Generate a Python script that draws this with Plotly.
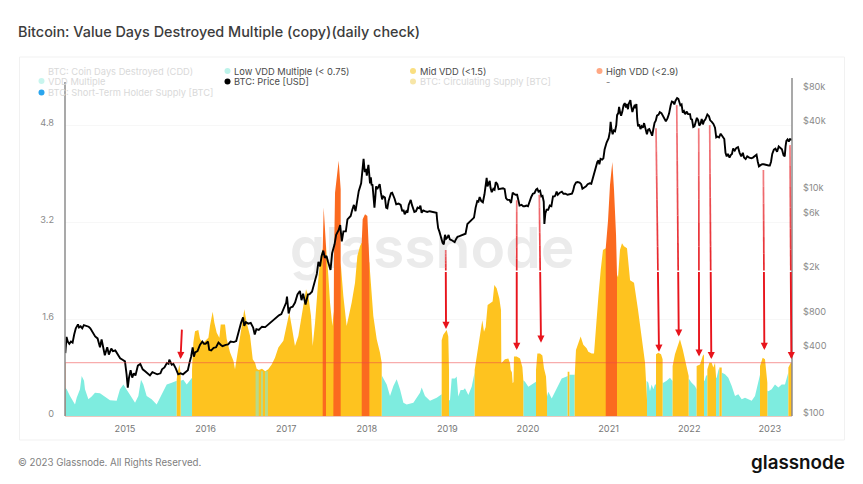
import plotly.graph_objects as go

TITLE = "Bitcoin: Value Days Destroyed Multiple (copy)(daily check)"
FOOTER = "© 2023 Glassnode. All Rights Reserved."
BRAND = "glassnode"

year_ticks = [2015, 2016, 2017, 2018, 2019, 2020, 2021, 2022, 2023]
vdd_ticks = [0, 1.6, 3.2, 4.8]
price_ticks = [100, 400, 800, 2000, 6000, 10000, 40000, 80000]
price_labels = ["$100", "$400", "$800", "$2k", "$6k", "$10k", "$40k", "$80k"]
threshold = 0.88

d14 = [2014.26,2014.275,2014.29,2014.31,2014.33,2014.35,2014.37,2014.39,2014.417,2014.43,2014.45,2014.47,2014.49,2014.52,2014.55,2014.57,2014.60,2014.63,2014.66,2014.69,2014.71,2014.73,2014.75,2014.78,2014.80,2014.83,2014.85,2014.88,2014.91,2014.94,2014.97]
p14 = [355,495,450,430,450,440,520,590,640,600,615,590,630,620,610,590,548,500,480,400,470,395,340,400,345,390,370,375,350,320,310]
d15 = [2015.0,2015.02,2015.035,2015.05,2015.07,2015.09,2015.11,2015.13,2015.16,2015.19,2015.22,2015.25,2015.28,2015.31,2015.34,2015.37,2015.40,2015.44,2015.46,2015.49,2015.52,2015.54,2015.55,2015.58,2015.60,2015.63,2015.66,2015.69,2015.72,2015.75,2015.78,2015.80,2015.82,2015.84,2015.855,2015.87,2015.9,2015.93,2015.96,2015.98]
p15 = [300,230,175,215,250,215,235,225,275,285,255,245,235,225,240,235,230,235,255,265,290,285,310,280,285,260,230,235,230,240,250,290,330,400,330,360,370,420,450,430]
d16 = [2016.0,2016.03,2016.045,2016.07,2016.10,2016.13,2016.16,2016.19,2016.21,2016.25,2016.28,2016.31,2016.35,2016.38,2016.40,2016.42,2016.44,2016.465,2016.48,2016.50,2016.53,2016.56,2016.59,2016.61,2016.63,2016.66,2016.70,2016.74,2016.78,2016.81,2016.85,2016.88,2016.91,2016.94,2016.97]
p16 = [430,450,380,375,395,400,440,420,410,420,425,450,445,455,525,575,660,740,620,670,650,660,600,520,580,570,610,605,640,680,720,745,770,790,900]
d17 = [2017.0,2017.01,2017.03,2017.05,2017.08,2017.11,2017.14,2017.17,2017.19,2017.21,2017.24,2017.27,2017.29,2017.32,2017.35,2017.38,2017.40,2017.42,2017.44,2017.46,2017.48,2017.50,2017.52,2017.55,2017.57,2017.60,2017.62,2017.65,2017.67,2017.69,2017.71,2017.74,2017.76,2017.80,2017.82,2017.84,2017.86,2017.88,2017.90,2017.93,2017.945,2017.96,2017.975,2017.99]
p17 = [1000,1130,800,900,920,1000,1180,1270,1050,1200,960,1180,1190,1250,1500,1800,2300,2100,2600,2900,2500,2600,2300,1950,2750,3300,4000,4400,4900,3500,4300,4300,5500,5900,6700,7400,6500,8000,9800,11500,15000,19000,14500,15500]
d18 = [2018.0,2018.012,2018.02,2018.03,2018.04,2018.05,2018.06,2018.07,2018.08,2018.095,2018.105,2018.115,2018.13,2018.145,2018.16,2018.175,2018.19,2018.205,2018.225,2018.24,2018.255,2018.27,2018.285,2018.3,2018.315,2018.33,2018.345,2018.365,2018.38,2018.395,2018.42,2018.44,2018.455,2018.47,2018.49,2018.505,2018.52,2018.545,2018.56,2018.575,2018.59,2018.61,2018.63,2018.65,2018.665,2018.68,2018.7,2018.72,2018.75,2018.78,2018.82,2018.84,2018.865,2018.872,2018.885,2018.9,2018.92,2018.94,2018.955,2018.97,2018.985]
p18 = [13500,15000,16800,14000,11500,13000,11000,11300,8800,7000,8500,10800,10200,10800,11300,9500,8300,8800,8600,7000,6900,8000,9000,9400,9500,8700,8400,7500,7500,7600,7400,6500,6700,6100,6500,6300,7400,8200,7400,6900,6400,6500,7000,6900,7300,6300,6600,6500,6400,6500,6400,6350,6300,5500,4600,4300,3800,3400,3300,4000,3700]
d19 = [2019.0,2019.015,2019.03,2019.05,2019.07,2019.09,2019.105,2019.125,2019.15,2019.175,2019.2,2019.225,2019.248,2019.27,2019.29,2019.31,2019.33,2019.35,2019.37,2019.385,2019.4,2019.42,2019.44,2019.46,2019.475,2019.487,2019.497,2019.51,2019.525,2019.535,2019.55,2019.57,2019.585,2019.6,2019.62,2019.635,2019.655,2019.675,2019.69,2019.71,2019.727,2019.745,2019.77,2019.79,2019.81,2019.825,2019.845,2019.865,2019.88,2019.895,2019.92,2019.94,2019.96,2019.98]
p19 = [3800,4000,3650,3600,3500,3450,3650,3850,3900,3950,3990,4100,5000,5200,5300,5500,5700,7000,8000,7900,8700,8000,7800,9200,10700,12900,10800,11400,12100,10500,9600,10300,10100,11800,11300,10200,10300,10300,10400,10200,8500,8200,8200,7700,9500,9300,9100,9100,8200,7300,7400,7200,7200,7300]
d20 = [2020.0,2020.02,2020.04,2020.06,2020.08,2020.1,2020.115,2020.13,2020.15,2020.165,2020.18,2020.195,2020.203,2020.215,2020.23,2020.25,2020.27,2020.29,2020.31,2020.33,2020.34,2020.355,2020.37,2020.395,2020.42,2020.44,2020.465,2020.49,2020.52,2020.545,2020.56,2020.575,2020.595,2020.615,2020.64,2020.66,2020.675,2020.695,2020.72,2020.74,2020.765,2020.785,2020.805,2020.82,2020.84,2020.86,2020.875,2020.885,2020.9,2020.92,2020.935,2020.95,2020.975,2020.99]
p20 = [7200,8100,8700,9300,9400,10100,10300,9700,9900,8800,8900,7900,5000,6200,6700,6700,7300,7200,8800,8800,9000,9700,9100,9500,9700,9300,9300,9100,9200,9300,9900,11000,11700,11800,11700,11300,10300,10500,10800,11300,11500,11400,13000,13500,15500,17800,18400,17000,19000,18700,19200,23000,26500,28500]
d21 = [2021.0,2021.015,2021.025,2021.035,2021.05,2021.065,2021.08,2021.095,2021.105,2021.12,2021.13,2021.145,2021.155,2021.17,2021.185,2021.2,2021.215,2021.225,2021.24,2021.25,2021.27,2021.28,2021.295,2021.31,2021.325,2021.335,2021.345,2021.355,2021.365,2021.38,2021.395,2021.41,2021.425,2021.44,2021.46,2021.475,2021.49,2021.505,2021.525,2021.54,2021.555,2021.57,2021.585,2021.6,2021.62,2021.635,2021.655,2021.675,2021.69,2021.71,2021.73,2021.75,2021.77,2021.785,2021.8,2021.815,2021.83,2021.85,2021.865,2021.875,2021.89,2021.905,2021.92,2021.935,2021.95,2021.97,2021.985]
p21 = [29000,33000,40500,35000,31500,34000,33500,38000,46500,48500,55000,48000,46000,50000,57000,59500,54500,58500,52500,58800,63300,56000,49500,54000,57500,53500,58500,43000,37000,38500,35000,37000,36000,39500,35500,31500,34500,35000,32500,30500,35000,39800,41500,46000,47000,49500,48500,46000,43500,41000,43500,48000,57000,61500,61000,58000,62500,66000,65000,60000,57000,58000,49000,50500,47500,50000,47500]
d22 = [2022.01,2022.02,2022.035,2022.05,2022.065,2022.08,2022.095,2022.11,2022.125,2022.14,2022.155,2022.17,2022.185,2022.2,2022.225,2022.245,2022.26,2022.28,2022.3,2022.32,2022.335,2022.35,2022.37,2022.39,2022.41,2022.435,2022.45,2022.465,2022.48,2022.5,2022.515,2022.53,2022.545,2022.565,2022.585,2022.605,2022.625,2022.645,2022.665,2022.68,2022.7,2022.72,2022.745,2022.77,2022.79,2022.82,2022.835,2022.85,2022.865,2022.885,2022.905,2022.925,2022.945,2022.97,2022.985]
p22 = [47500,43000,42500,36500,37000,41500,44000,42000,37500,39000,43000,38500,41500,42500,47200,45500,41800,40500,38800,36000,29500,30000,29500,31800,30000,28500,21500,20000,21000,19500,20500,21000,23500,22500,23800,24200,21500,20000,21500,19500,18900,20000,19500,19200,19500,20500,20700,18000,16300,16700,17000,17000,16800,16800,16600]
d23 = [2023.0,2023.015,2023.03,2023.05,2023.07,2023.09,2023.11,2023.13,2023.15,2023.17,2023.185,2023.195,2023.205,2023.22,2023.235,2023.25,2023.273]
p23 = [16600,17900,21000,22900,23400,22000,24500,23500,23100,20500,20000,24500,27500,28300,27100,28400,28100]

price_dates = d14 + d15 + d16 + d17 + d18 + d19 + d20 + d21 + d22 + d23
price_usd = p14 + p15 + p16 + p17 + p18 + p19 + p20 + p21 + p22 + p23

# VDD multiple by colour band; None separates runs of the band
low_dates = [
 2014.256,2014.277,2014.318,2014.38,2014.401,2014.442,2014.463,2014.492,2014.504,2014.546,2014.587,2014.628,2014.69,2014.752,2014.814,2014.897,2014.938,2014.98,2015.021,2015.063,2015.125,2015.166,2015.199,2015.228,2015.269,2015.331,2015.393,2015.435,2015.518,2015.58,2015.642,None,
 2015.691,2015.724,2015.766,2015.807,2015.832,None,
 2018.185,2018.189,2018.247,2018.288,2018.33,2018.371,2018.412,2018.454,2018.495,2018.578,2018.66,2018.681,2018.722,2018.784,2018.867,2018.917,2018.929,None,
 2019.02,2019.032,2019.053,2019.094,2019.115,2019.135,2019.164,2019.198,2019.218,2019.26,2019.301,2019.33,2019.338,None,
 2019.942,2019.963,2020.004,2020.066,2020.099,None,
 2020.236,2020.252,2020.294,2020.335,2020.376,2020.418,2020.48,2020.492,None,
 2020.513,2020.542,2020.575,2020.579,None,
 2021.472,2021.493,2021.513,2021.534,2021.555,2021.575,2021.588,None,
 2021.67,2021.679,2021.72,2021.761,2021.79,2021.794,None,
 2021.993,2022.001,2022.03,2022.071,2022.084,2022.092,None,
 2022.183,2022.192,2022.208,2022.225,None,
 2022.332,2022.34,2022.365,2022.374,None,
 2022.403,2022.407,2022.444,2022.485,2022.527,2022.568,2022.609,2022.651,2022.692,2022.733,2022.775,2022.816,2022.857,2022.87,2022.878,None,
 2022.969,2022.982,2023.023,2023.064,2023.106,2023.147,2023.188,2023.217,2023.23]
low_vals = [
 .47,.44,.33,.19,.30,.44,.66,.58,.44,.275,.32,.385,.375,.32,.26,.25,.44,.52,.44,.36,.22,.33,.60,.52,.33,.275,.19,.30,.52,.55,.58,None,
 .58,.60,.52,.60,.63,None,
 .68,.66,.52,.33,.495,.605,.44,.22,.19,.22,.385,.47,.33,.25,.30,.36,.36,None,
 .26,.26,.62,.62,.65,.32,.43,.43,.456,.347,.484,.70,.72,None,
 .59,.565,.484,.54,.565,None,
 .32,.40,.29,.40,.51,.62,.65,.66,None,
 .68,.68,.68,.68,None,
 .58,.55,.41,.52,.44,.52,.52,None,
 .55,.55,.58,.63,.58,.58,None,
 .62,.605,.55,.495,.44,.44,None,
 .58,.58,.66,.68,None,
 .63,.63,.77,.77,None,
 .72,.715,.69,.63,.495,.33,.36,.275,.30,.275,.25,.33,.55,.66,.68,None,
 .42,.41,.44,.52,.47,.52,.52,.69,.72]

stripe_dates = [2016.62,2016.66,None,2016.687,2016.712,None,2016.737,2016.774]
stripe_vals = [.74,.74,None,.74,.74,None,.74,.74]

mid_dates = [
 2015.642,2015.65,2015.675,2015.691,None,
 2015.832,2015.848,2015.869,2015.91,2015.931,2015.972,2016.035,2016.055,2016.088,2016.109,2016.138,2016.171,2016.188,2016.241,2016.262,2016.303,2016.345,2016.365,2016.398,2016.427,2016.46,2016.481,2016.51,2016.552,2016.585,2016.614,2016.634,2016.66,2016.70,2016.74,2016.778,2016.82,2016.861,2016.903,2016.965,2017.006,2017.039,2017.068,2017.109,2017.151,2017.192,2017.246,2017.275,2017.308,2017.329,2017.358,2017.399,2017.428,2017.453,2017.494,2017.523,2017.544,2017.573,2017.585,2017.676,2017.709,2017.75,2017.779,2017.812,2017.854,2017.883,2017.916,2017.937,2018.032,2018.081,2018.123,2018.164,2018.185,None,
 2018.929,2018.949,2018.991,2019.011,2019.02,None,
 2019.338,2019.363,2019.384,2019.413,2019.433,2019.454,2019.475,2019.499,2019.528,2019.561,2019.582,2019.611,2019.644,2019.665,2019.669,2019.714,2019.756,2019.777,2019.785,2019.80,2019.81,2019.82,2019.826,2019.859,2019.901,2019.93,2019.942,None,
 2020.099,2020.116,2020.149,2020.178,2020.198,2020.223,2020.236,None,
 2020.492,2020.513,None,
 2020.579,2020.595,2020.624,2020.653,2020.686,2020.727,2020.748,2020.79,2020.819,2020.84,2020.873,2020.902,2020.93,2020.964,2021.104,2021.117,2021.141,2021.166,2021.19,2021.228,2021.266,2021.315,2021.365,2021.414,2021.452,2021.476,None,
 2021.588,2021.617,2021.65,2021.67,None,
 2021.794,2021.823,2021.865,2021.885,2021.919,2021.947,2021.981,2021.993,None,
 2022.092,2022.134,2022.167,2022.183,None,
 2022.225,2022.25,2022.278,2022.299,2022.32,2022.332,None,
 2022.374,2022.403,None,
 2022.878,2022.911,2022.94,2022.961,2022.969,None,
 2023.23,2023.259,2023.275]
mid_vals = [
 .60,.70,.85,.70,None,
 .77,1.21,1.40,1.42,1.27,1.21,1.29,1.49,1.72,1.54,1.375,1.29,1.51,1.51,1.27,1.05,.91,.77,1.05,1.32,1.6,1.76,1.54,1.32,.935,.88,.78,.76,.78,.74,.77,.85,.96,1.13,1.24,1.485,1.705,1.485,1.155,1.32,1.65,2.09,1.98,1.65,1.155,1.54,2.26,2.64,2.75,2.805,2.31,1.87,1.485,1.65,2.53,1.98,1.485,1.65,1.87,2.2,2.64,2.805,2.86,2.53,1.65,1.265,1.045,.88,None,
 1.25,1.34,1.42,1.31,.76,None,
 .76,.98,1.2,1.42,1.58,1.39,1.47,1.83,1.86,1.89,2.16,2.11,1.94,1.75,.87,.935,.95,.87,.76,.72,.54,.56,.98,.98,.95,.81,.59,None,
 .76,1.03,1.03,1.0,.79,.65,.32,None,
 .73,.73,None,
 .65,1.09,1.2,1.31,1.175,1.12,1.06,1.03,1.03,1.47,1.97,2.41,2.74,2.77,2.33,2.29,2.74,2.85,2.8,2.77,2.24,2.2,1.75,1.3,.88,.27,None,
 1.02,1.045,1.02,.935,None,
 .825,1.02,1.18,1.265,1.1,.935,.77,.66,None,
 .825,.85,.99,1.02,None,
 .77,.88,.88,.80,.88,.66,None,
 .80,.80,None,
 .825,.96,.935,.66,.55,None,
 .80,.88,.88]

high_dates = [
 2014.256,2014.262,None,
 2017.453,2017.465,2017.494,None,
 2017.585,2017.593,2017.606,2017.651,2017.676,None,
 2017.937,2017.949,2017.978,2018.007,2018.032,None,
 2020.964,2020.993,2021.017,2021.046,2021.067,2021.092,2021.104,None,
 2023.27,2023.275]
high_vals = [
 .88,.88,None,
 2.75,3.44,2.805,None,
 1.65,2.6,3.685,4.21,3.74,None,
 2.86,3.245,3.33,3.30,2.53,None,
 2.77,3.23,3.81,4.19,3.73,2.99,2.33,None,
 .88,.88]

# hand-drawn arrows on the screenshot: top and tip, in axis units
arrow_top_x = [2015.707,2018.979,2019.86,2020.14,2021.588,2021.845,2022.118,2022.254,2022.92,2023.25]
arrow_top_y = [1.45,2.74,3.56,3.65,4.75,5.13,4.75,4.80,4.06,4.47]
arrow_tip_x = [2015.689,2018.983,2019.86,2020.161,2021.625,2021.87,2022.122,2022.274,2022.932,2023.267]
arrow_tip_y = [.94,1.436,1.09,1.21,1.06,1.31,.98,.94,1.09,.94]

for a, b in [(d14,p14),(d15,p15),(d16,p16),(d17,p17),(d18,p18),(d19,p19),(d20,p20),(d21,p21),(d22,p22),(d23,p23),
             (low_dates,low_vals),(mid_dates,mid_vals),(high_dates,high_vals)]:
    assert len(a) == len(b), (a[0], len(a), len(b))

W, H = 863, 484
L, R, T, B = 65, 792, 78, 416
X0, X1 = 2014.256, 2023.275
YMAX = (B - T) / 60.6


def px(x):
    return (x - L) / (R - L)


def py(y):
    return (B - y) / (B - T)


def runs(xs, ys):
    """Drop each None run break down to the zero line so one area can hold many runs."""
    ox, oy = [], []
    for i, (x, y) in enumerate(zip(xs, ys)):
        if x is None:
            ox += [xs[i - 1], xs[i + 1]]
            oy += [0, 0]
        else:
            ox.append(x)
            oy.append(y)
    return ox, oy


def band(xs, ys, color, name):
    ox, oy = runs(xs, ys)
    return go.Scatter(x=ox, y=oy, mode="lines", line=dict(width=0, color=color), fill="tozeroy",
                      fillcolor=color, name=name, hoverinfo="skip", showlegend=False)


FONT = "Inter, Roboto, sans-serif"
fig = go.Figure()
fig.add_trace(go.Scatter(x=[2018.81], y=[2.68], mode="text", text=[BRAND], hoverinfo="skip", showlegend=False,
                         textfont=dict(family="Inter", size=57, color="#ebebeb", weight=600)))
fig.add_trace(band(low_dates, low_vals, "#7eecdf", "Low VDD Multiple (< 0.75)"))
fig.add_trace(band(mid_dates, mid_vals, "#fec31f", "Mid VDD (<1.5)"))
fig.add_trace(band(stripe_dates, stripe_vals, "rgba(126,236,223,0.55)", "Low VDD Multiple (< 0.75)"))
fig.add_trace(band(high_dates, high_vals, "#fb6a1f", "High VDD (<2.9)"))
fig.add_trace(go.Scatter(x=price_dates, y=price_usd, yaxis="y2", mode="lines", name="BTC: Price [USD]",
                         line=dict(color="#000000", width=1.9), showlegend=False))

shapes = [
    dict(type="rect", xref="paper", yref="paper", x0=px(19.5), x1=px(844.5), y0=py(440), y1=py(57),
         line=dict(color="#f1f1f1", width=1), fillcolor="rgba(0,0,0,0)", layer="below"),
    dict(type="line", xref="paper", yref="y", x0=0, x1=1, y0=threshold, y1=threshold,
         line=dict(color="rgba(240,70,70,0.45)", width=1.2)),
    dict(type="line", xref="paper", yref="paper", x0=0, x1=0, y0=0, y1=py(82),
         line=dict(color="#8c8c8c", width=1.5)),
    dict(type="line", xref="paper", yref="paper", x0=1, x1=1, y0=0, y1=1,
         line=dict(color="#8c8c8c", width=1.5)),
]
annotations = []
SPLIT = 2.4
STEPS = 6
for xt, yt, xe, ye in zip(arrow_top_x, arrow_top_y, arrow_tip_x, arrow_tip_y):
    if yt > SPLIT:
        f = (yt - SPLIT) / (yt - ye)
        xm = xt + (xe - xt) * f
        for k in range(STEPS):
            a0, a1 = k / STEPS, (k + 1) / STEPS
            shapes.append(dict(type="line", xref="x", yref="y",
                               x0=xt + (xm - xt) * a0, x1=xt + (xm - xt) * a1,
                               y0=yt + (SPLIT - yt) * a0, y1=yt + (SPLIT - yt) * a1,
                               line=dict(color="rgba(232,40,45,%.2f)" % (0.55 + 0.45 * a1), width=1.7)))
    else:
        xm = xt
    annotations.append(dict(xref="x", yref="y", axref="x", ayref="y", x=xe, y=ye, ax=xm, ay=min(yt, SPLIT),
                            text="", showarrow=True, arrowhead=2, arrowsize=0.75, arrowwidth=1.9, arrowcolor="#e8141c"))


def text(x, y, s, size, color, anchor="left", family=FONT, weight=None):
    f = dict(family=family, size=size, color=color)
    if weight:
        f["weight"] = weight
    annotations.append(dict(xref="paper", yref="paper", x=px(x), y=py(y), text=s, showarrow=False,
                            xanchor=anchor, yanchor="middle", font=f, borderpad=0, borderwidth=0))


text(18, 31, TITLE, 14.4, "#3c3c3c", weight=500)
text(18, 462.5, FOOTER, 9.7, "#808080")
text(845, 462, BRAND, 18.8, "#111111", anchor="right", weight=600)

legend = [
    (48, 71, "BTC: Coin Days Destroyed (CDD)", "#d9d9d9", None),
    (48, 81, "VDD Multiple", "#d9d9d9", "#c9f5ee"),
    (48, 92.5, "BTC: Short-Term Holder Supply [BTC]", "#d9d9d9", "#2aa5ee"),
    (234, 71, "Low VDD Multiple (< 0.75)", "#4a4a4a", "#bdf3ea"),
    (234, 81.5, "BTC: Price [USD]", "#4a4a4a", "#000000"),
    (419.5, 71, "Mid VDD (<1.5)", "#4a4a4a", "#fadf80"),
    (419.5, 81.5, "BTC: Circulating Supply [BTC]", "#d9d9d9", "#f7e6a8"),
    (606, 71, "High VDD (<2.9)", "#4a4a4a", "#ffa884"),
    (606, 81.5, "-", "#777777", None),
]
for x, y, s, c, dot in legend:
    text(x, y, s, 9.3, c)
    if dot:
        shapes.append(dict(type="circle", xref="paper", yref="paper", x0=px(x - 9.5), x1=px(x - 3.5),
                           y0=py(y + 3), y1=py(y - 3), line=dict(width=0), fillcolor=dot))

fig.update_layout(
    width=W, height=H, autosize=False, paper_bgcolor="white", plot_bgcolor="white",
    margin=dict(l=L, r=W - R, t=T, b=H - B), showlegend=False,
    font=dict(family=FONT, size=9, color="#8a8a8a"),
    shapes=shapes, annotations=annotations,
    xaxis=dict(range=[X0, X1], tickmode="array", tickvals=year_ticks, ticktext=[str(v) for v in year_ticks],
               showgrid=False, zeroline=False, showline=True, linecolor="#e9c9c0", linewidth=1, ticks="",
               ticklabelstandoff=4, tickfont=dict(size=9.2, color="#777777")),
    yaxis=dict(range=[0, YMAX], tickmode="array", tickvals=vdd_ticks, ticktext=["0", "1.6", "3.2", "4.8"],
               showgrid=True, gridcolor="#f7f7f7", zeroline=False, showline=False, ticks="",
               ticklabelstandoff=10, ticklabelshift=-2, tickfont=dict(size=9.2, color="#8a8a8a")),
    yaxis2=dict(type="log", range=[1.991, 4.998], overlaying="y", side="right", anchor="x",
                tickmode="array", tickvals=price_ticks, ticktext=price_labels,
                showgrid=False, zeroline=False, showline=False, ticks="",
                ticklabelstandoff=10, ticklabelshift=-2, tickfont=dict(size=9.2, color="#8a8a8a")),
)
fig.write_html("out.html", config=dict(displayModeBar=False),
               post_script="document.body.style.margin='0';")
